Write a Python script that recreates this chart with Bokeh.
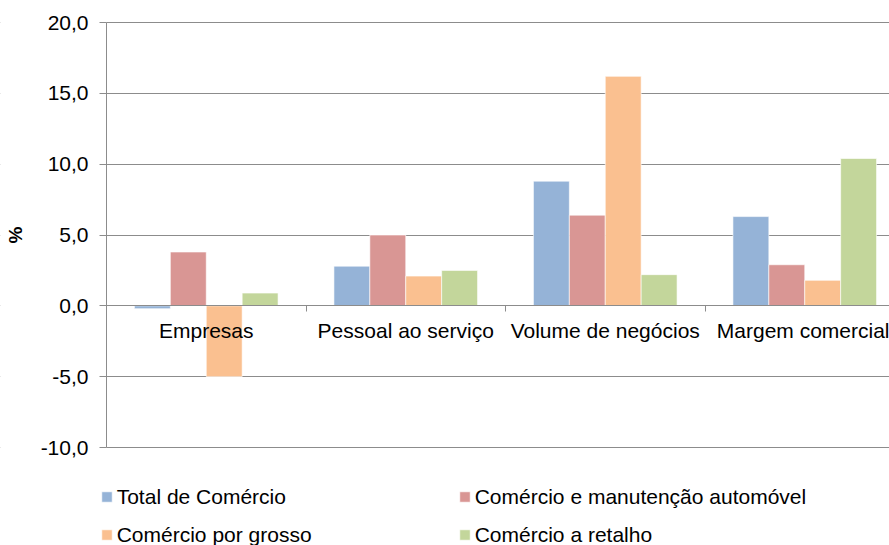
from bokeh.plotting import figure
from bokeh.models import (Range1d, FixedTicker, ColumnDataSource, Legend, LegendItem,
                          BoxAnnotation)
from bokeh.embed import file_html
from bokeh.resources import INLINE

# ---- data ----
categories = ["Empresas", "Pessoal ao serviço", "Volume de negócios", "Margem comercial"]
series_names = ["Total de Comércio", "Comércio e manutenção automóvel",
                "Comércio por grosso", "Comércio a retalho"]
total_comercio = [-0.2, 2.8, 8.8, 6.3]
comercio_automovel = [3.8, 5.0, 6.4, 2.9]
comercio_grosso = [-5.0, 2.1, 16.2, 1.8]
comercio_retalho = [0.9, 2.5, 2.2, 10.4]
y_ticks = [-10, -5, 0, 5, 10, 15, 20]

series_values = [total_comercio, comercio_automovel, comercio_grosso, comercio_retalho]
colors = ["#95B3D7", "#D99694", "#FAC090", "#C3D69B"]
offsets = [-0.27, -0.09, 0.09, 0.27]
bar_w = 0.18

FONT = "Liberation Sans"
GRID = "#8C8C8C"

# frame covers the whole canvas; axes are pinned with fixed_location
W, H = 889, 545
px_x = 199.5          # pixels per category
px_y = 425 / 30.0     # pixels per percentage point
x0_px, ytop_px = 106, 22
x_start = -x0_px / px_x
x_end = (W - x0_px) / px_x
y_end = 20 + ytop_px / px_y
y_start = y_end - H / px_y

p = figure(width=W, height=H, output_backend="svg", toolbar_location=None,
           x_range=Range1d(x_start, x_end), y_range=Range1d(y_start, y_end),
           min_border=0, min_border_left=0, min_border_right=0,
           min_border_top=0, min_border_bottom=0)
p.outline_line_color = None
p.background_fill_color = "white"
p.border_fill_color = "white"

renderers = []
for vals, col, off in zip(series_values, colors, offsets):
    src = ColumnDataSource(dict(x=[i + 0.5 + off for i in range(len(categories))], top=vals))
    r = p.vbar(x="x", top="top", bottom=0, width=bar_w, source=src,
               fill_color=col, line_color="white", line_width=0.6)
    renderers.append(r)

# grid
p.xgrid.grid_line_color = None
p.ygrid.ticker = FixedTicker(ticks=y_ticks)
p.ygrid.grid_line_color = GRID
p.ygrid.grid_line_width = 1

# mask grid left of the value axis
p.add_layout(BoxAnnotation(right=0, fill_color="white", fill_alpha=1,
                           line_alpha=0, level="glyph"))

# y axis
ya = p.yaxis[0]
ya.fixed_location = 0
ya.bounds = (-10, 20)
ya.ticker = FixedTicker(ticks=y_ticks)
ya.major_label_overrides = {v: f"{v:.1f}".replace(".", ",") for v in y_ticks}
ya.major_label_text_font = FONT
ya.major_label_text_font_size = "21px"
ya.major_label_text_color = "black"
ya.major_label_standoff = 11
ya.major_tick_out = 7
ya.major_tick_in = 0
ya.minor_tick_line_color = None
ya.axis_line_color = GRID
ya.major_tick_line_color = GRID
ya.axis_label = "%"
ya.axis_label_text_font = FONT
ya.axis_label_text_font_size = "19px"
ya.axis_label_text_font_style = "bold"
ya.axis_label_text_color = "black"
ya.axis_label_standoff = 12

# x axis at zero
xa = p.xaxis[0]
xa.fixed_location = 0
xa.bounds = (0, x_end)
xa.ticker = FixedTicker(ticks=[i + 0.5 for i in range(len(categories))],
                        minor_ticks=[1, 2, 3])
xa.major_label_overrides = {i + 0.5: c for i, c in enumerate(categories)}
xa.major_label_text_font = FONT
xa.major_label_text_font_size = "21px"
xa.major_label_text_color = "black"
xa.major_label_standoff = 7
xa.major_tick_line_color = None
xa.major_tick_out = 0
xa.major_tick_in = 0
xa.minor_tick_out = 6
xa.minor_tick_in = 0
xa.minor_tick_line_color = GRID
xa.axis_line_color = GRID

# legend: 2 columns x 2 rows below the plot area
positions = [(99.7, 36.5), (457.7, 36.5), (99.7, -1.5), (457.7, -1.5)]
for name, r, loc in zip(series_names, renderers, positions):
    lg = Legend(items=[LegendItem(label=name, renderers=[r])], location=loc,
                label_text_font=FONT, label_text_font_size="21px",
                label_text_color="black", glyph_width=13, glyph_height=13,
                label_standoff=4, padding=0, margin=0, spacing=0,
                border_line_color=None, background_fill_alpha=0,
                label_height=13)
    p.add_layout(lg, "center")

open("out.html", "w").write(file_html(p, INLINE))
